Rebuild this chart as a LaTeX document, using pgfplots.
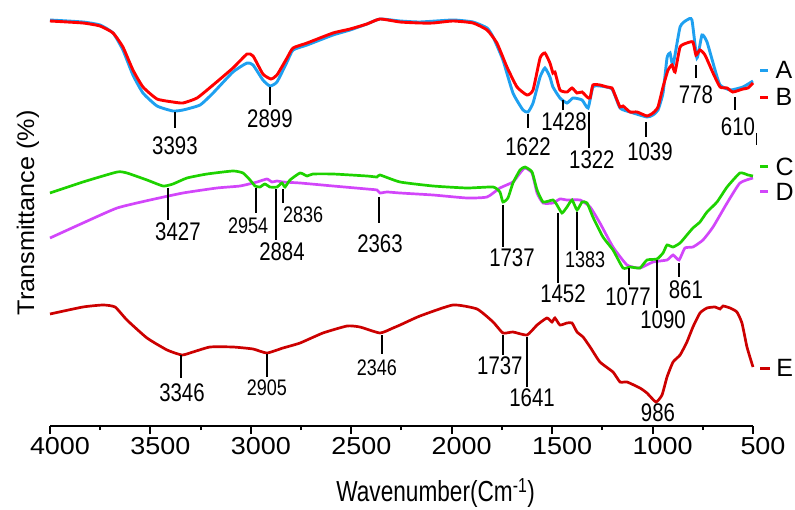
\documentclass[border=0pt]{standalone}
\usepackage{fontspec}
\setmainfont{Liberation Sans}
\newfontfamily\narrowfont{Liberation Sans}[FakeStretch=0.8]
\newfontfamily\xlfont{Liberation Sans}[FakeStretch=0.78]
\newfontfamily\ylfont{Liberation Sans}[FakeStretch=1.05]
\newfontfamily\widefont{Liberation Sans}[FakeStretch=1.1]
\usepackage{pgfplots}
\pgfplotsset{compat=1.18}
\definecolor{colA}{RGB}{30,160,240}
\definecolor{colB}{RGB}{255,0,0}
\definecolor{colC}{RGB}{30,210,0}
\definecolor{colD}{RGB}{210,70,250}
\definecolor{colE}{RGB}{204,0,0}
\tikzset{pkl/.style={line width=2.5pt, black},
  lb/.style={font=\narrowfont\fontsize{25.5}{25}\selectfont, inner sep=0pt},
  lbs/.style={font=\narrowfont\fontsize{22.5}{22}\selectfont, inner sep=0pt},
  lg/.style={font=\fontsize{25}{25}\selectfont, inner sep=0pt, anchor=west}}
\newcommand\pk[6]{\draw[pkl] (axis cs:#1,#2) -- (axis cs:#1,#3); \node[lb] at (axis cs:#4,#5) {#6};}
\newcommand\pks[6]{\draw[pkl] (axis cs:#1,#2) -- (axis cs:#1,#3); \node[lbs] at (axis cs:#4,#5) {#6};}
\begin{document}
\begin{tikzpicture}[x=1pt,y=1pt]
\useasboundingbox (0,0) rectangle (795,509);
\begin{axis}[at={(50pt,83pt)}, anchor=south west, scale only axis,
  width=703pt, height=421pt,
  xmin=500, xmax=4000, ymin=0, ymax=421, x dir=reverse,
  axis x line*=bottom, axis y line=none, clip=false,
  xtick={500,1000,...,4000}, minor x tick num=1,
  tick align=outside, major tick length=8pt, minor tick length=4pt,
  every tick/.style={black, line width=2pt},
  axis line style={line width=2pt, black},
  xticklabel style={font=\widefont\fontsize{24.5}{24}\selectfont, anchor=north, inner sep=0pt, xshift=10pt, yshift=-3pt},
  /pgf/number format/assume math mode=true, /pgf/number format/1000 sep={},
  every axis plot/.append style={smooth, tension=0.3, no markers}]
% A
\addplot[colA, line width=2.9pt] coordinates {
(4000,406)(3836,404)(3751,401)(3686,393)(3637,376)(3587,351)(3537,333)(3467,320)(3388,315)(3338,316)(3253,321)(3188,333)(3089,354)(3019,363)(2989,361)(2940,346)(2905,340)(2870,344)(2820,364)(2790,376)(2720,381)(2591,391)(2506,396)(2422,402)(2357,407)(2257,405)(2158,404)(1994,406)(1894,404)(1824,398)(1794,389)(1745,366)(1695,333)(1645,316)(1620,314)(1595,323)(1560,349)(1536,358)(1511,349)(1496,339)(1461,328)(1426,323)(1396,328)(1351,326)(1321,318)(1297,339)(1262,340)(1202,337)(1162,318)(1112,314)(1028,309)(998,311)(973,316)(948,333)(928,368)(913,373)(898,361)(863,399)(829,406)(804,406)(779,368)(754,391)(729,384)(689,356)(664,341)(614,336)(550,339)(500,345)};
% B
\addplot[colB, line width=2.9pt] coordinates {
(4000,405)(3836,403)(3751,400)(3686,393)(3637,379)(3587,356)(3537,339)(3467,327)(3388,324)(3338,323)(3268,328)(3188,341)(3089,358)(3019,372)(2989,370)(2940,352)(2900,347)(2870,351)(2820,368)(2790,378)(2720,383)(2591,393)(2506,397)(2422,402)(2357,407)(2257,404)(2158,403)(2093,403)(1994,405)(1894,403)(1824,396)(1775,383)(1725,359)(1675,339)(1625,331)(1595,336)(1560,368)(1536,373)(1511,363)(1496,353)(1486,354)(1461,336)(1426,334)(1401,338)(1376,333)(1351,334)(1326,329)(1311,328)(1297,341)(1262,341)(1227,339)(1202,338)(1187,331)(1162,319)(1147,320)(1112,314)(1077,314)(1028,310)(998,313)(973,319)(948,339)(923,356)(903,361)(888,354)(863,379)(829,383)(799,384)(784,371)(764,376)(739,371)(699,353)(664,339)(629,338)(600,334)(550,337)(525,338)(500,343)};
% D
\addplot[colD, line width=2.7pt] coordinates {
(4000,188)(3836,203)(3666,218)(3502,226)(3338,233)(3169,238)(3054,240)(2969,244)(2920,247)(2895,244)(2870,245)(2840,244)(2755,243)(2591,240)(2422,237)(2372,236)(2357,233)(2322,234)(2257,233)(2093,231)(1924,228)(1824,229)(1760,238)(1695,244)(1660,253)(1635,258)(1600,253)(1575,233)(1545,223)(1496,223)(1461,227)(1426,226)(1361,226)(1311,219)(1262,203)(1197,179)(1127,161)(1063,158)(998,164)(928,166)(898,171)(868,166)(839,178)(799,179)(749,186)(699,199)(629,223)(565,243)(500,248)};
% C
\addplot[colC, line width=2.7pt] coordinates {
(4000,233)(3836,244)(3666,254)(3617,253)(3517,246)(3437,240)(3388,242)(3318,248)(3218,252)(3089,255)(3039,253)(3004,246)(2979,240)(2955,239)(2930,242)(2905,239)(2870,239)(2845,243)(2830,239)(2805,246)(2755,253)(2720,250)(2691,252)(2591,252)(2422,250)(2372,249)(2357,251)(2257,244)(2093,240)(1924,238)(1794,239)(1760,234)(1745,224)(1720,228)(1695,243)(1660,256)(1635,259)(1600,254)(1575,236)(1545,224)(1496,226)(1476,221)(1451,213)(1426,219)(1401,226)(1376,216)(1351,224)(1326,223)(1297,209)(1247,189)(1197,176)(1147,158)(1112,159)(1063,158)(1028,166)(978,167)(948,173)(928,181)(898,179)(863,183)(829,191)(799,198)(764,204)(729,214)(679,224)(629,239)(565,253)(525,251)(500,250)};
% E
\addplot[colE, line width=2.7pt] coordinates {
(4000,112)(3836,119)(3736,121)(3676,119)(3617,106)(3517,88)(3417,76)(3343,71)(3288,74)(3203,79)(3089,79)(2989,77)(2920,73)(2840,78)(2755,83)(2641,93)(2521,100)(2457,99)(2357,93)(2292,98)(2257,101)(2158,110)(1994,121)(1874,117)(1794,104)(1745,93)(1695,94)(1625,91)(1575,101)(1526,108)(1501,104)(1486,108)(1461,101)(1426,103)(1401,103)(1376,94)(1346,89)(1311,79)(1262,64)(1197,54)(1162,44)(1127,44)(1063,38)(1028,33)(983,24)(953,31)(928,49)(898,64)(863,71)(829,84)(799,99)(764,113)(729,118)(689,119)(664,117)(649,120)(614,118)(580,114)(555,103)(530,79)(500,59)};
% annotations A/B
\pk{3378}{314}{298}{3378}{280}{3393}
\pk{2905}{339}{321}{2905}{307}{2899}
\pk{1620}{312}{298}{1620}{279}{1622}
\pk{1446}{326}{316}{1441}{304}{1428}
\pk{1316}{314}{278}{1302}{266}{1322}
\pk{1033}{304}{289}{1013}{274}{1039}
\pk{784}{361}{348}{784}{331}{778}
\pk{590}{329}{316}{575}{299}{610}
\draw[black, line width=1pt] (axis cs:485,293) -- (axis cs:485,281);
% annotations C/D
\pk{3413}{238}{206}{3363}{194}{3427}
\pks{2974}{238}{213}{3014}{200}{2954}
\pk{2875}{237}{186}{2845}{174}{2884}
\pks{2840}{237}{223}{2740}{211}{2836}
\pk{2362}{229}{203}{2357}{182}{2363}
\pk{1745}{221}{179}{1700}{168}{1737}
\pk{1471}{213}{143}{1446}{132}{1452}
\pks{1376}{214}{176}{1336}{166}{1383}
\pk{1117}{158}{141}{1122}{129}{1077}
\pk{978}{166}{118}{948}{106}{1090}
\pk{868}{163}{149}{834}{136}{861}
% annotations E
\pk{3348}{71}{48}{3343}{33}{3346}
\pks{2920}{72}{49}{2920}{38}{2905}
\pks{2347}{91}{72}{2372}{58}{2346}
\pk{1745}{91}{71}{1760}{60}{1737}
\pk{1625}{89}{39}{1600}{28}{1641}
\node[lb] at (axis cs:973,13) {986};
% legend
\draw[colA, line width=3pt] (axis cs:465,355) -- (axis cs:425,355);
\node[lg] at (axis cs:388,356) {A};
\draw[colB, line width=3pt] (axis cs:465,328) -- (axis cs:425,328);
\node[lg] at (axis cs:388,329) {B};
\draw[colC, line width=3pt] (axis cs:465,259) -- (axis cs:425,259);
\node[lg] at (axis cs:388,259) {C};
\draw[colD, line width=3pt] (axis cs:465,234) -- (axis cs:425,234);
\node[lg] at (axis cs:388,234) {D};
\draw[colE, line width=3pt] (axis cs:465,58) -- (axis cs:415,58);
\node[lg] at (axis cs:385,58) {E};
% axis labels
\node[font=\xlfont\fontsize{29}{29}\selectfont, inner sep=0pt] at (axis cs:2080,-67) {Wavenumber(Cm\textsuperscript{-1})};
\node[font=\ylfont\fontsize{24}{24}\selectfont, inner sep=0pt, rotate=90] at (axis cs:4110,213) {Transmittance (\%)};
\end{axis}
\end{tikzpicture}
\end{document}
